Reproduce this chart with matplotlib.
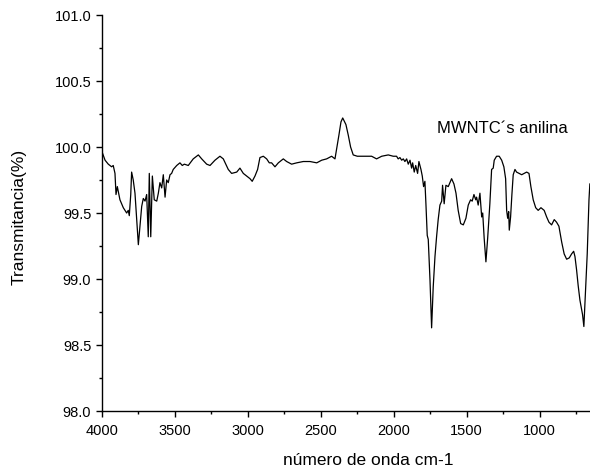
import matplotlib
matplotlib.use("Agg")
import matplotlib.pyplot as plt
from matplotlib.ticker import MultipleLocator, FormatStrFormatter

plt.rcParams['font.family'] = ['Liberation Sans', 'DejaVu Sans']

wavenumber = [
    4000, 3977, 3955, 3932, 3921, 3909, 3902, 3893, 3875, 3852, 3829, 3818, 3811,
    3801, 3795, 3784, 3772, 3760, 3749, 3738, 3726, 3715, 3703, 3692, 3681, 3674,
    3664, 3653, 3640, 3623, 3612, 3601, 3589, 3578, 3566, 3555, 3544, 3532, 3521,
    3510, 3486, 3464, 3448, 3434, 3407, 3373, 3338, 3315, 3281, 3258, 3224, 3190,
    3167, 3133, 3110, 3075, 3053, 3030, 3007, 2984, 2969, 2950, 2932, 2916, 2893,
    2870, 2852, 2836, 2813, 2790, 2756, 2733, 2699, 2664, 2619, 2573, 2527, 2493,
    2459, 2425, 2414, 2402, 2390, 2375, 2361, 2349, 2340, 2327, 2311, 2295, 2277,
    2249, 2219, 2185, 2151, 2117, 2082, 2037, 2003, 1980, 1969, 1957, 1945, 1934,
    1923, 1911, 1900, 1888, 1877, 1870, 1859, 1849, 1836, 1827, 1813, 1804, 1795,
    1786, 1779, 1770, 1763, 1751, 1740, 1729, 1717, 1706, 1695, 1683, 1671, 1665,
    1654, 1642, 1626, 1603, 1587, 1573, 1558, 1541, 1523, 1505, 1489, 1473, 1462,
    1450, 1438, 1432, 1421, 1409, 1397, 1390, 1380, 1368, 1356, 1341, 1329, 1318,
    1311, 1295, 1277, 1260, 1245, 1233, 1226, 1219, 1212, 1208, 1199, 1190, 1181,
    1169, 1158, 1140, 1123, 1106, 1089, 1073, 1060, 1044, 1027, 1010, 991, 969,
    952, 936, 918, 900, 884, 868, 849, 832, 815, 797, 781, 767, 758, 747, 736,
    724, 706, 697, 685, 674, 662, 656,
]

transmittance = [
    99.97, 99.90, 99.87, 99.85, 99.86, 99.80, 99.64, 99.70, 99.60, 99.54, 99.50, 99.52, 99.48,
    99.64, 99.81, 99.75, 99.65, 99.45, 99.26, 99.40, 99.55, 99.61, 99.59, 99.64, 99.32, 99.80,
    99.32, 99.78, 99.60, 99.59, 99.65, 99.73, 99.69, 99.79, 99.62, 99.75, 99.73, 99.79, 99.80,
    99.83, 99.86, 99.88, 99.86, 99.87, 99.86, 99.91, 99.94, 99.91, 99.87, 99.86, 99.90, 99.93,
    99.91, 99.83, 99.80, 99.81, 99.84, 99.80, 99.78, 99.76, 99.74, 99.78, 99.83, 99.92, 99.93,
    99.91, 99.88, 99.88, 99.85, 99.88, 99.91, 99.89, 99.87, 99.88, 99.89, 99.89, 99.88, 99.90,
    99.91, 99.93, 99.92, 99.91, 99.99, 100.09, 100.19, 100.22, 100.20, 100.17, 100.09, 100.00, 99.94,
    99.93, 99.93, 99.93, 99.93, 99.91, 99.93, 99.94, 99.93, 99.93, 99.91, 99.92, 99.90, 99.91,
    99.89, 99.91, 99.87, 99.90, 99.84, 99.88, 99.81, 99.86, 99.80, 99.89, 99.83, 99.78, 99.70,
    99.74, 99.57, 99.33, 99.30, 98.99, 98.63, 98.94, 99.17, 99.32, 99.45, 99.56, 99.59, 99.71,
    99.57, 99.71, 99.70, 99.76, 99.72, 99.65, 99.52, 99.42, 99.41, 99.46, 99.56, 99.60, 99.59,
    99.64, 99.60, 99.62, 99.56, 99.65, 99.47, 99.50, 99.31, 99.13, 99.31, 99.57, 99.83, 99.84,
    99.90, 99.93, 99.93, 99.90, 99.85, 99.76, 99.52, 99.46, 99.51, 99.37, 99.47, 99.64, 99.79,
    99.83, 99.81, 99.80, 99.79, 99.80, 99.81, 99.80, 99.70, 99.60, 99.54, 99.52, 99.54, 99.52,
    99.47, 99.43, 99.41, 99.45, 99.43, 99.40, 99.28, 99.19, 99.15, 99.16, 99.19, 99.21, 99.17, 99.07, 98.95,
    98.84, 98.73, 98.64, 98.92, 99.19, 99.60, 99.72,
]

x_ticks = [4000, 3500, 3000, 2500, 2000, 1500, 1000]
y_ticks = [98.0, 98.5, 99.0, 99.5, 100.0, 100.5, 101.0]
label_text = "MWNTC´s anilina"

fig = plt.figure(figsize=(5.90, 4.69), dpi=100)
ax = fig.add_axes([101.7 / 590, 58 / 469, (590 - 101.7) / 590, 396 / 469])

ax.plot(wavenumber, transmittance, color='black', linewidth=0.9)

ax.set_xlim(4000, 655)
ax.set_ylim(98.0, 101.0)
ax.set_xticks(x_ticks)
ax.set_yticks(y_ticks)
ax.xaxis.set_minor_locator(MultipleLocator(250))
ax.yaxis.set_minor_locator(MultipleLocator(0.25))
ax.yaxis.set_major_formatter(FormatStrFormatter('%.1f'))

for s in ['top', 'right']:
    ax.spines[s].set_visible(False)
for s in ['left', 'bottom']:
    ax.spines[s].set_linewidth(1.0)

ax.tick_params(which='major', direction='out', length=4, width=1.0, labelsize=10.5)
ax.tick_params(which='minor', direction='out', length=2.5, width=1.0)
ax.tick_params(axis='x', which='major', pad=5.5)
ax.tick_params(axis='y', which='major', pad=3.5)

ax.set_ylabel("Transmitancia(%)", fontsize=12.5)
ax.set_xlabel("número de onda cm-1", fontsize=12.5)
ax.xaxis.set_label_coords((368 - 101.7) / (590 - 101.7), -0.105)
ax.yaxis.set_label_coords((27 - 101.7) / (590 - 101.7), 0.49)

ax.text(1705, 100.14, label_text, fontsize=12, ha='left', va='center')

fig.savefig("out.png", dpi=100)
